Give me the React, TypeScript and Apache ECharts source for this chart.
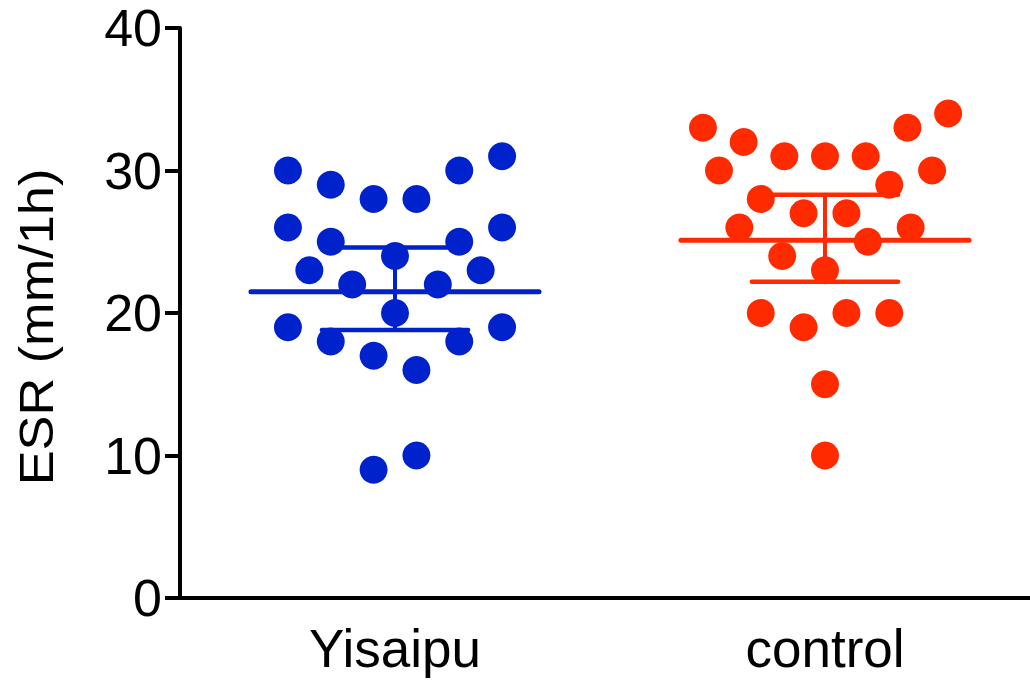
import React, { useEffect, useRef } from "react";
import * as echarts from "echarts";

// ---- data ----
const categories = ["Yisaipu", "control"];
const yTicks = [0, 10, 20, 30, 40];

const yisaipuValues = [30, 29, 28, 28, 30, 31, 26, 25, 24, 25, 26, 23, 22, 22, 23, 20, 19, 18, 17, 16, 18, 19, 9, 10];
// horizontal jitter of each dot, in dot-columns
const yisaipuJitter = [-5, -3, -1, 1, 3, 5, -5, -3, 0, 3, 5, -4, -2, 2, 4, 0, -5, -3, -1, 1, 3, 5, -1, 1];

const controlValues = [33, 32, 30, 31, 31, 31, 33, 34, 30, 29, 28, 27, 27, 26, 26, 25, 24, 23, 20, 19, 20, 20, 15, 10];
const controlJitter = [-5.7, -3.8, -4.95, -1.9, 0, 1.9, 3.85, 5.75, 5, 3, -3, -1, 1, -4, 4, 2, -2, 0, -3, -1, 1, 3, 0, 0];

const groupMeans = [21.5, 25.1];
const groupLower = [18.8, 22.2];
const groupUpper = [24.6, 28.3];

const groupColors = ["#0022CC", "#FF2A00"];

const FONT = "Liberation Sans, Arial, Helvetica, sans-serif";
const COLUMN = 0.0498;

export default function App() {
  const ref = useRef<HTMLDivElement>(null);

  useEffect(() => {
    if (!ref.current) return;
    const chart = echarts.init(ref.current, null, { renderer: "svg" });

    const dots = (values: number[], jitter: number[], g: number) =>
      values.map((v, i) => [g + jitter[i] * COLUMN, v]);

    const statsData = categories.map((_, g) => [g, groupMeans[g], groupLower[g], groupUpper[g]]);

    const option: any = {
      animation: false,
      backgroundColor: "#ffffff",
      grid: { left: 180, top: 28, width: 860, height: 570, containLabel: false, outerBoundsMode: "none" },
      xAxis: [
        {
          type: "category",
          data: categories,
          boundaryGap: true,
          axisLine: { onZero: false, lineStyle: { color: "#000", width: 4 } },
          axisTick: { alignWithLabel: true, length: 15, lineStyle: { color: "#000", width: 4 } },
          axisLabel: { fontSize: 53, color: "#000", margin: 24, fontFamily: FONT },
          splitLine: { show: false },
        },
        { type: "value", min: -0.5, max: 1.5, show: false },
      ],
      yAxis: {
        type: "value",
        min: yTicks[0],
        max: yTicks[yTicks.length - 1],
        interval: 10,
        axisLine: { show: true, onZero: false, lineStyle: { color: "#000", width: 4 } },
        axisTick: { show: true, length: 15, lineStyle: { color: "#000", width: 4 } },
        axisLabel: { fontSize: 52, color: "#000", margin: 18, fontFamily: FONT },
        splitLine: { show: false },
      },
      graphic: [
        {
          type: "text",
          x: 37,
          y: 327,
          rotation: Math.PI / 2,
          scaleX: 1.09,
          style: {
            text: "ESR (mm/1h)",
            font: `48px ${FONT}`,
            fill: "#000",
            textAlign: "center",
            textVerticalAlign: "middle",
          },
        },
      ],
      series: [
        {
          type: "scatter",
          xAxisIndex: 1,
          symbolSize: 28,
          itemStyle: { color: groupColors[0], opacity: 1 },
          data: dots(yisaipuValues, yisaipuJitter, 0),
          z: 2,
        },
        {
          type: "scatter",
          xAxisIndex: 1,
          symbolSize: 28,
          itemStyle: { color: groupColors[1], opacity: 1 },
          data: dots(controlValues, controlJitter, 1),
          z: 2,
        },
        {
          type: "custom",
          xAxisIndex: 1,
          z: 3,
          data: statsData,
          renderItem: (params: any, api: any) => {
            const x = api.value(0);
            const mean = api.value(1);
            const lo = api.value(2);
            const hi = api.value(3);
            const color = groupColors[params.dataIndex];
            const mL = api.coord([x - 0.335, mean]);
            const mR = api.coord([x + 0.335, mean]);
            const loL = api.coord([x - 0.17, lo]);
            const loR = api.coord([x + 0.17, lo]);
            const hiL = api.coord([x - 0.17, hi]);
            const hiR = api.coord([x + 0.17, hi]);
            const vTop = api.coord([x, hi]);
            const vBot = api.coord([x, lo]);
            const ln = (a: number[], b: number[], w: number) => ({
              type: "line",
              shape: { x1: a[0], y1: a[1], x2: b[0], y2: b[1] },
              style: { stroke: color, lineWidth: w, lineCap: "round" },
            });
            return {
              type: "group",
              children: [
                ln(mL, mR, 5),
                ln(vTop, vBot, 4),
                ln(hiL, hiR, 4.5),
                ln(loL, loR, 4.5),
              ],
            };
          },
        },
      ],
    };

    chart.setOption(option);
    return () => chart.dispose();
  }, []);

  return (
    <div
      ref={ref}
      style={{ position: "absolute", left: 0, top: 0, width: 1030, height: 682, background: "#fff" }}
    />
  );
}
